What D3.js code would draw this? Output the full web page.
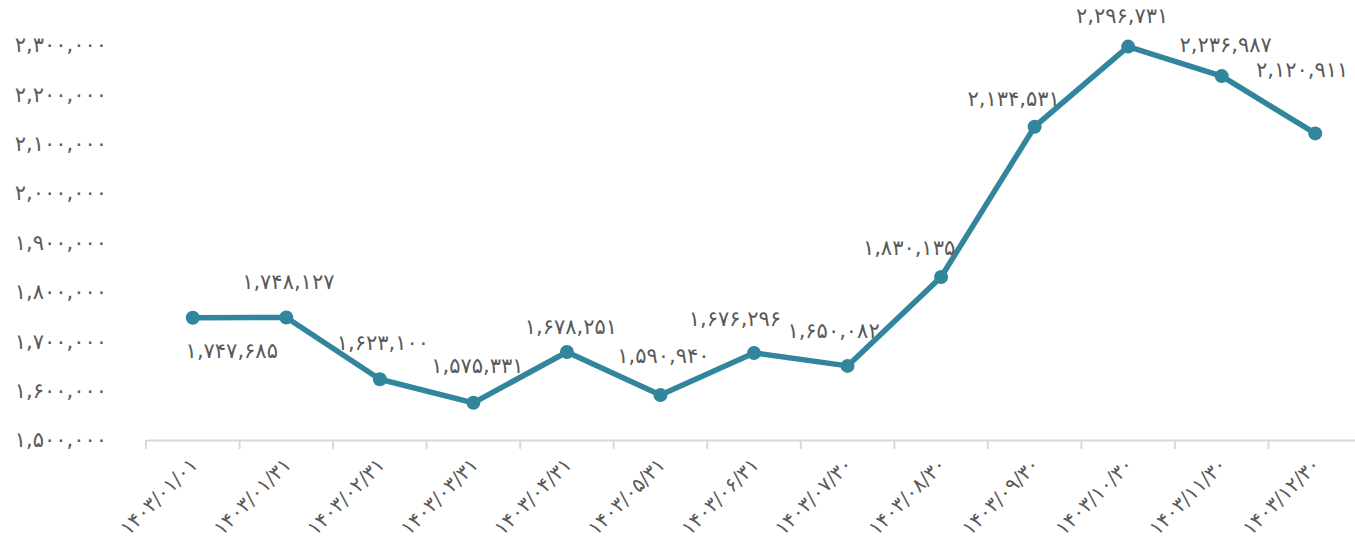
<!DOCTYPE html>
<html>
<head>
<meta charset="utf-8">
<script src="https://cdn.jsdelivr.net/npm/d3@7"></script>
<style>
  html, body { margin: 0; padding: 0; background: #fff; }
  text { font-family: "DejaVu Sans", sans-serif; fill: #595959; }
</style>
</head>
<body>
<div id="viz"></div>
<script>
var width  = 1355;
var height = 548;

// data
var dates  = ["1403/01/01", "1403/01/31", "1403/02/31", "1403/03/31", "1403/04/31",
              "1403/05/31", "1403/06/31", "1403/07/30", "1403/08/30", "1403/09/30",
              "1403/10/30", "1403/11/30", "1403/12/30"];
var values = [1747685, 1748127, 1623100, 1575331, 1678251, 1590940, 1676296,
              1650082, 1830135, 2134531, 2296731, 2236987, 2120911];
var yTicks = [1500000, 1600000, 1700000, 1800000, 1900000, 2000000, 2100000, 2200000, 2300000];

// where each value label sits relative to its marker (dx, dy)
var labelShift = [[39, 33], [2, -36], [3, -37], [4, -37], [4, -25], [3, -39], [-19, -34],
                  [-14, -35], [-32, -29], [-21, -28], [-6, -31], [4, -31], [-13, -64]];

var fa = "۰۱۲۳۴۵۶۷۸۹";
function toFa(s){
	return String(s).replace(/[0-9]/g, function(d){ return fa[+d]; });
}
var fmt = d3.format(",");

var margin = {left: 146, right: -7, top: 45, bottom: 108};

var x = d3.scaleBand()
	.domain(dates)
	.range([margin.left, width - margin.right])
	.padding(0);

var y = d3.scaleLinear()
	.domain([1500000, 2300000])
	.range([height - margin.bottom, margin.top]);

var svg = d3.select("#viz").append("svg")
	.attr("width", width)
	.attr("height", height);

// y labels (no axis line)
svg.append("g")
	.selectAll("text")
	.data(yTicks)
	.enter().append("text")
	.attr("x", 107)
	.attr("y", function(d){ return y(d); })
	.attr("dy", "0.35em")
	.attr("text-anchor", "end")
	.style("font-size", "21px")
	.text(function(d){ return toFa(fmt(d)); });

// x axis
var xAxis = svg.append("g")
	.attr("transform", "translate(0," + y(1500000) + ")")
	.call(d3.axisBottom(x).tickSize(0).tickFormat(""));
xAxis.select(".domain").attr("stroke", "#d9d9d9").attr("stroke-width", 2);
xAxis.selectAll(".tick").remove();

var edges = dates.map(function(d){ return x(d); });
xAxis.selectAll("line.sep")
	.data(edges)
	.enter().append("line")
	.attr("class", "sep")
	.attr("x1", function(d){ return d; })
	.attr("x2", function(d){ return d; })
	.attr("y1", 0)
	.attr("y2", 9)
	.attr("stroke", "#d9d9d9")
	.attr("stroke-width", 2);

xAxis.selectAll("text.cat")
	.data(dates)
	.enter().append("text")
	.attr("class", "cat")
	.attr("text-anchor", "end")
	.style("font-size", "20px")
	.attr("transform", function(d){
		return "translate(" + (x(d) + x.bandwidth()/2 + 6) + ",26) rotate(-45)";
	})
	.text(function(d){ return toFa(d); });

// line
var cx = function(d, i){ return x(dates[i]) + x.bandwidth()/2; };
var line = d3.line()
	.x(cx)
	.y(function(d){ return y(d); });

svg.append("path")
	.datum(values)
	.attr("d", line)
	.attr("fill", "none")
	.attr("stroke", "#31859c")
	.attr("stroke-width", 5.5)
	.attr("stroke-linejoin", "round");

svg.append("g")
	.selectAll("circle")
	.data(values)
	.enter().append("circle")
	.attr("cx", cx)
	.attr("cy", function(d){ return y(d); })
	.attr("r", 7)
	.attr("fill", "#31859c");

svg.append("g")
	.selectAll("text")
	.data(values)
	.enter().append("text")
	.attr("x", function(d, i){ return cx(d, i) + labelShift[i][0]; })
	.attr("y", function(d, i){ return y(d) + labelShift[i][1]; })
	.attr("dy", "0.35em")
	.attr("text-anchor", "middle")
	.style("font-size", "21px")
	.text(function(d){ return toFa(fmt(d)); });
</script>
</body>
</html>
